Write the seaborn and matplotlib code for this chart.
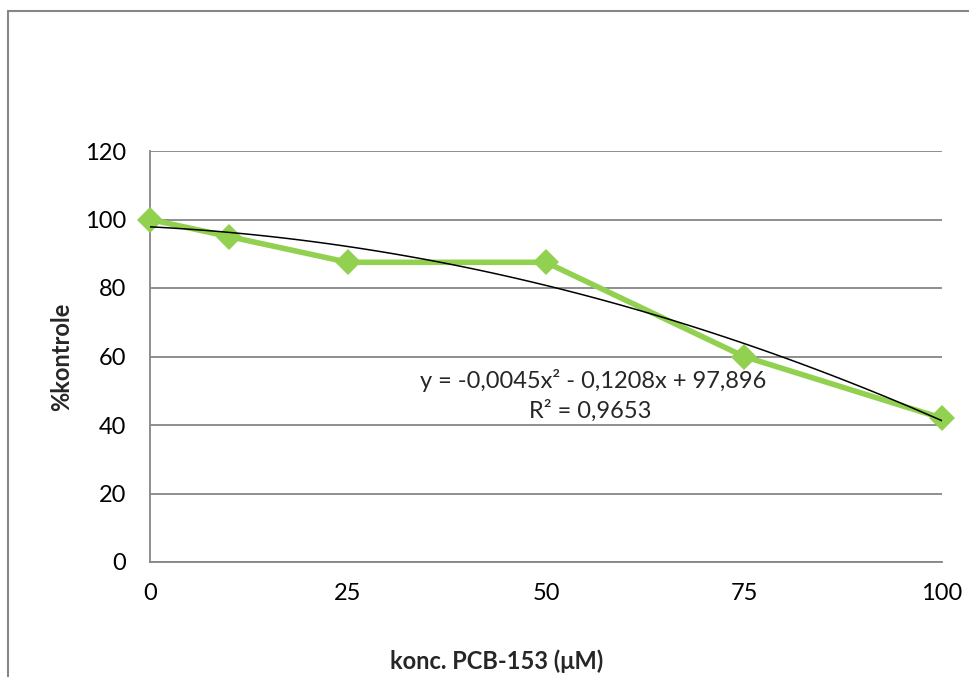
import matplotlib
matplotlib.use("Agg")
import matplotlib.pyplot as plt
import seaborn as sns
import pandas as pd
from matplotlib.lines import Line2D

# data
konc = [0, 10, 25, 50, 75, 100]
kontrole = [100, 95, 87.5, 87.5, 60, 42]
x_ticks = [0, 25, 50, 75, 100]
y_ticks = [0, 20, 40, 60, 80, 100, 120]
eq_text = "y = -0,0045x² - 0,1208x + 97,896"
r2_text = "R² = 0,9653"
x_label = "konc. PCB-153 (μM)"
y_label = "%kontrole"

df = pd.DataFrame({"konc": konc, "kontrole": kontrole})

sns.set_theme(style="white")
plt.rcParams["font.family"] = ["Lato", "DejaVu Sans"]

W, H = 970, 677
fig = plt.figure(figsize=(W / 100, H / 100), dpi=100)
ax = fig.add_axes([150 / W, 1 - 562 / H, (942 - 150) / W, (562 - 151) / H])

grey = "#868686"
green = "#92D050"
fs = 17

sns.lineplot(data=df, x="konc", y="kontrole", ax=ax, color=green, lw=4,
             marker="D", markersize=13, markeredgewidth=0, clip_on=False, zorder=3)
sns.regplot(data=df, x="konc", y="kontrole", ax=ax, order=2, ci=None, scatter=False,
            line_kws=dict(color="black", lw=1.1, zorder=4), truncate=True)

ax.set_xlim(0, 100)
ax.set_ylim(0, 120)
ax.set_xticks(x_ticks)
ax.set_yticks(y_ticks)
ax.set_xticklabels([str(v) for v in x_ticks])
ax.set_yticklabels([str(v) for v in y_ticks])
ax.yaxis.grid(True, color=grey, lw=1.3)
ax.xaxis.grid(False)
for s in ["top", "right"]:
    ax.spines[s].set_visible(False)
for s in ["left", "bottom"]:
    ax.spines[s].set_color(grey)
    ax.spines[s].set_linewidth(1.3)
ax.tick_params(axis="both", direction="out", length=6, width=1.3, color=grey,
               labelsize=fs, labelcolor="black")
ax.tick_params(axis="y", pad=11)
ax.tick_params(axis="x", pad=9)
ax.set_xlabel("")
ax.set_ylabel("")

fig.text(497 / W, 1 - 661 / H, x_label, ha="center", va="center",
         fontsize=fs, fontweight="bold")
fig.text(62 / W, 1 - 357 / H, y_label, ha="center", va="center",
         fontsize=fs, fontweight="bold", rotation=90)

fig.text(593 / W, 1 - 381 / H, eq_text, ha="center", va="center", fontsize=fs)
fig.text(590 / W, 1 - 411 / H, r2_text, ha="center", va="center", fontsize=fs)

# chart border
fig.add_artist(Line2D([8 / W, 8 / W], [1 - 11 / H, 0], color=grey, lw=1.5,
                      transform=fig.transFigure))
fig.add_artist(Line2D([8 / W, 1], [1 - 11 / H, 1 - 11 / H], color=grey, lw=1.5,
                      transform=fig.transFigure))

fig.savefig("out.png", dpi=100)
